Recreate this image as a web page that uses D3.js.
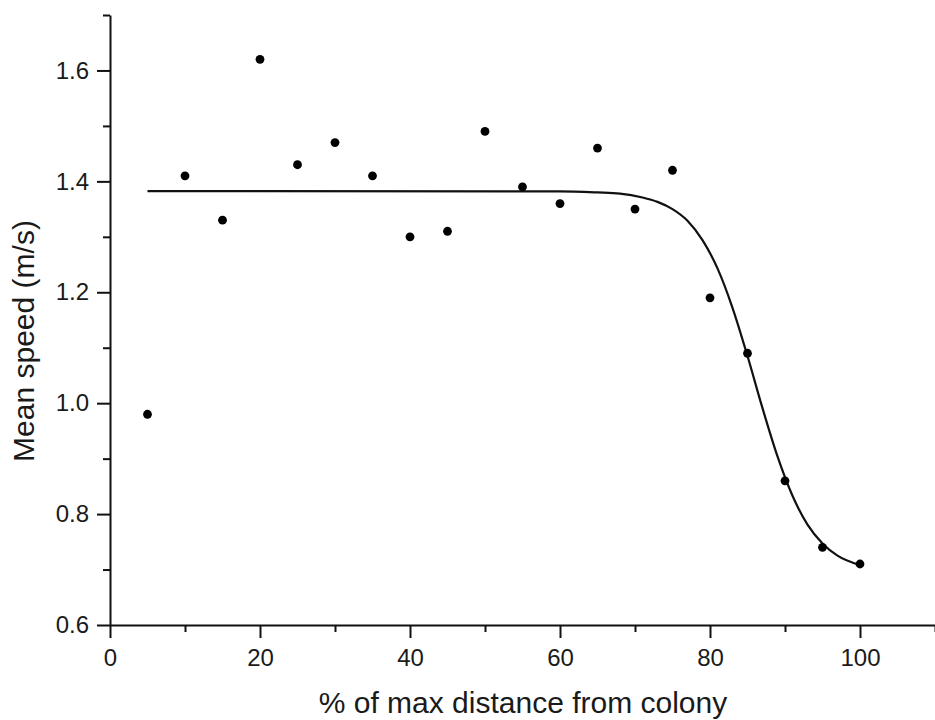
<!DOCTYPE html>
<html lang="en">
	<head>
		<meta charset="utf-8">
		<title>Mean speed vs distance from colony</title>
		<script type="text/javascript" src="https://cdn.jsdelivr.net/npm/d3@7"></script>
		<style type="text/css">
			body { margin: 0; background: #fff; }
			svg { display: block; }
			text { font-family: "Liberation Sans", Arial, sans-serif; fill: #1a1a1a; }
			.axis path, .axis line { stroke: #111; stroke-width: 2; }
		</style>
	</head>
	<body>

		<script type="text/javascript">

		//Data points (x = % of max distance, y = mean speed in m/s)
		var distance = [5, 10, 15, 20, 25, 30, 35, 40, 45, 50, 55, 60, 65, 70, 75, 80, 85, 90, 95, 100];
		var speed = [0.98, 1.41, 1.33, 1.62, 1.43, 1.47, 1.41, 1.30, 1.31, 1.49, 1.39, 1.36, 1.46, 1.35, 1.42, 1.19, 1.09, 0.86, 0.74, 0.71];

		//Fitted curve
		var fitX = [5, 60, 65, 68, 71, 73, 75, 77, 79, 81, 83, 85, 87, 89, 91, 93, 95, 97, 100];
		var fitY = [1.3825, 1.382, 1.380, 1.378, 1.371, 1.363, 1.350, 1.329, 1.294, 1.243, 1.172, 1.085, 0.991, 0.904, 0.833, 0.781, 0.747, 0.725, 0.708];

		//Tick values
		var xMajor = [0, 20, 40, 60, 80, 100];
		var xMinor = [10, 30, 50, 70, 90, 110];
		var yMajor = [0.6, 0.8, 1.0, 1.2, 1.4, 1.6];
		var yMinor = [0.7, 0.9, 1.1, 1.3, 1.5, 1.7];

		//Width and height
		var w = 935;
		var h = 720;

		var svg = d3.select("body")
					.append("svg")
					.attr("width", w)
					.attr("height", h);

		var x = d3.scaleLinear().domain([0, 110]).range([110, 935]);
		var y = d3.scaleLinear().domain([0.6, 1.7]).range([625, 15]);

		//Minor ticks first, then major axes with labels
		svg.append("g")
			.attr("class", "axis")
			.attr("transform", "translate(0," + y(0.6) + ")")
			.call(d3.axisBottom(x).tickValues(xMinor).tickSize(7).tickSizeOuter(0).tickFormat(""))
			.select(".domain").remove();

		svg.append("g")
			.attr("class", "axis")
			.attr("transform", "translate(" + x(0) + ",0)")
			.call(d3.axisLeft(y).tickValues(yMinor).tickSize(7).tickSizeOuter(0).tickFormat(""))
			.select(".domain").remove();

		var xAxis = svg.append("g")
			.attr("class", "axis")
			.attr("transform", "translate(0," + y(0.6) + ")")
			.call(d3.axisBottom(x).tickValues(xMajor).tickSize(13).tickSizeOuter(0).tickPadding(11).tickFormat(d3.format("d")));

		xAxis.selectAll("text")
			.style("font-size", "24px")
			.attr("fill", "#1a1a1a")
			.attr("dy", "0.71em");

		var yAxis = svg.append("g")
			.attr("class", "axis")
			.attr("transform", "translate(" + x(0) + ",0)")
			.call(d3.axisLeft(y).tickValues(yMajor).tickSize(13).tickSizeOuter(0).tickPadding(8).tickFormat(d3.format(".1f")));

		yAxis.selectAll("text")
			.style("font-size", "24px")
			.attr("fill", "#1a1a1a");

		//Fitted curve
		var line = d3.line()
					.x(function(d, i) { return x(fitX[i]); })
					.y(function(d) { return y(d); })
					.curve(d3.curveMonotoneX);

		svg.append("path")
			.datum(fitY)
			.attr("d", line)
			.attr("fill", "none")
			.attr("stroke", "#111")
			.attr("stroke-width", 2.2);

		//Data points
		svg.selectAll("circle")
			.data(speed)
			.enter()
			.append("circle")
			.attr("cx", function(d, i) { return x(distance[i]); })
			.attr("cy", function(d) { return y(d); })
			.attr("r", 4.4)
			.attr("fill", "#000");

		//Axis titles
		svg.append("text")
			.attr("x", 523)
			.attr("y", 713)
			.attr("text-anchor", "middle")
			.style("font-size", "30px")
			.text("% of max distance from colony");

		svg.append("text")
			.attr("transform", "translate(34,341) rotate(-90)")
			.attr("text-anchor", "middle")
			.style("font-size", "30px")
			.text("Mean speed (m/s)");

		</script>
	</body>
</html>
